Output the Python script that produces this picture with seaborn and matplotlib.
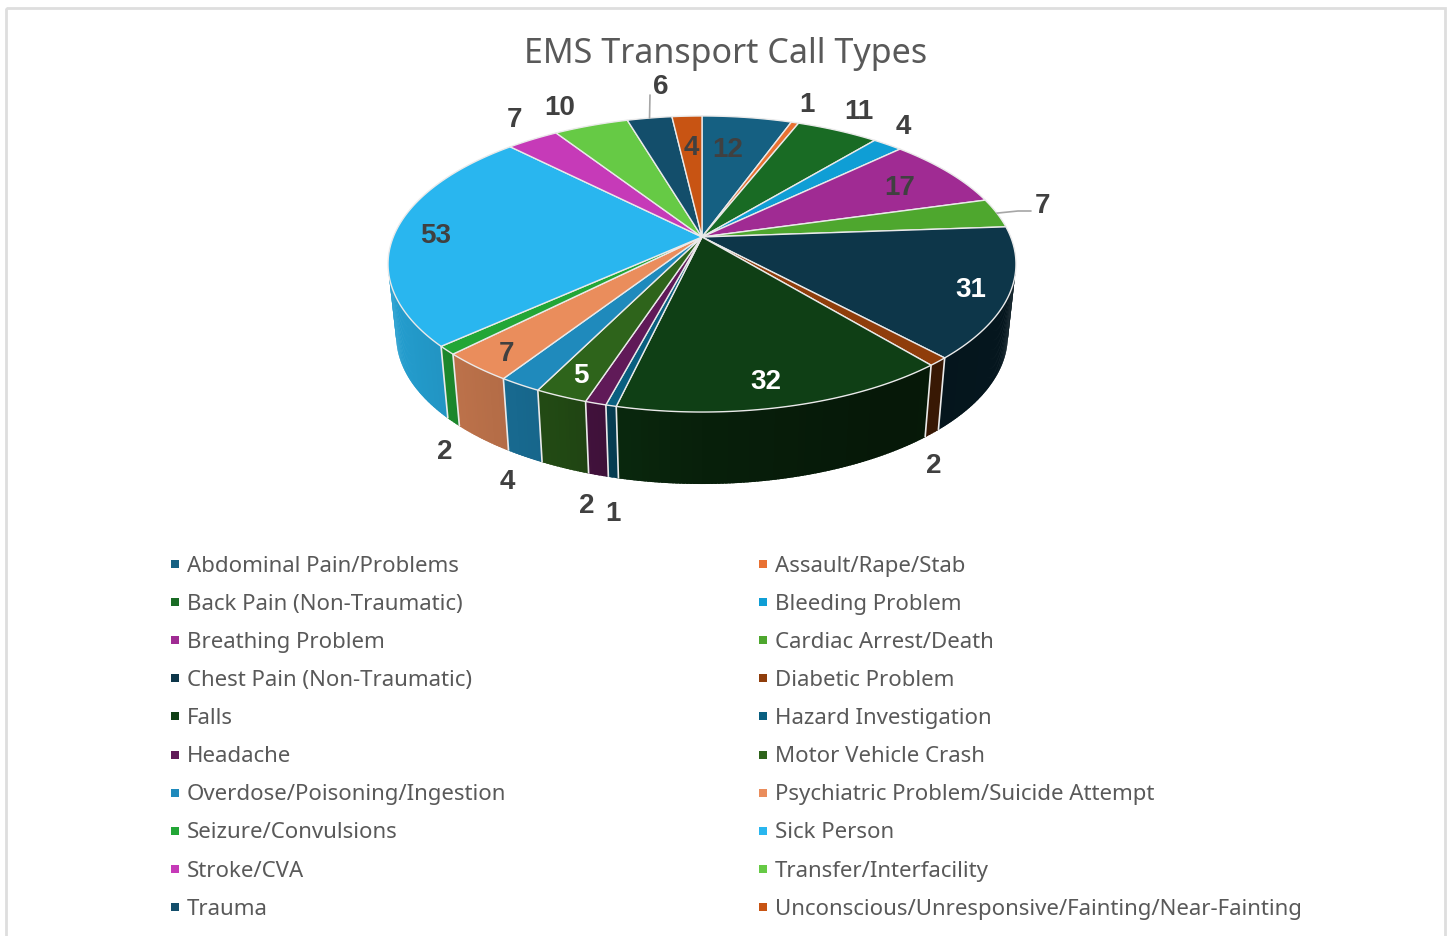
import numpy as np
import matplotlib
matplotlib.use("Agg")
import matplotlib.pyplot as plt
from matplotlib.collections import PolyCollection
from matplotlib.lines import Line2D
from matplotlib.patches import Rectangle
import seaborn as sns

sns.set_theme(style="white")
plt.rcParams['font.family'] = ['Noto Sans', 'DejaVu Sans']

# data
categories = ["Abdominal Pain/Problems", "Assault/Rape/Stab", "Back Pain (Non-Traumatic)",
              "Bleeding Problem", "Breathing Problem", "Cardiac Arrest/Death",
              "Chest Pain (Non-Traumatic)", "Diabetic Problem", "Falls", "Hazard Investigation",
              "Headache", "Motor Vehicle Crash", "Overdose/Poisoning/Ingestion",
              "Psychiatric Problem/Suicide Attempt", "Seizure/Convulsions", "Sick Person",
              "Stroke/CVA", "Transfer/Interfacility", "Trauma",
              "Unconscious/Unresponsive/Fainting/Near-Fainting"]
values = [12, 1, 11, 4, 17, 7, 31, 2, 32, 1, 2, 5, 4, 7, 2, 53, 7, 10, 6, 4]
colors = ["#156082", "#E97132", "#196B24", "#0F9ED5", "#A02B93", "#4EA72E",
          "#0D3649", "#8F3D0B", "#0F3F15", "#095F80", "#601A58", "#2E641B",
          "#1F8ABC", "#EA8D5C", "#22A636", "#29B6EF", "#C63AB8", "#66CA45",
          "#134E6B", "#C85413"]
title = "EMS Transport Call Types"

# label placement, pixels of the picture, same order as values
label_xy = [(728, 150), (807, 105), (859, 112), (903, 127), (900, 188), (1042, 206),
            (971, 290), (934, 466), (766, 382), (613, 514), (587, 506), (581, 376),
            (507, 482), (507, 354), (445, 452), (436, 236), (515, 120), (560, 108),
            (661, 87), (691, 148)]
white_labels = [6, 8, 11]

# perspective of the fake 3d disc
CX, CY = 702, 237
SX, SY, K = 308.7, 143.1, 0.1824
DROP, SHRINK = 72, 0.974


def project(t, r=1.0):
    # t is clockwise from 12 o'clock, radians
    x = r * np.sin(t)
    y = r * np.cos(t)
    d = 1 + K * y
    return CX + SX * x / d, CY - SY * y / d


def lower(px, py):
    return CX + SHRINK * (px - CX), py + DROP


def wall_shade(t):
    # excel lights the side from the left, darkest a bit right of the front
    return np.interp(np.sin(t), [-1, -0.4, 0, 0.5, 1], [0.88, 0.73, 0.5, 0.38, 0.42])


fig, ax = plt.subplots(figsize=(14.51, 9.36), dpi=100)
ax.set_position([0, 0, 1, 1])
ax.set_xlim(0, 1451)
ax.set_ylim(936, 0)
ax.axis("off")

ax.add_patch(Rectangle((6, 8), 1439, 960, fill=False, ec="#DEDEDE", lw=2))

edges = np.cumsum([0] + values) / sum(values) * 2 * np.pi
palette = sns.color_palette(colors)
EDGE = "#EAEAEA"

# side wall first, quads overlap the next one so no seams show
quads = []
quad_cols = []
for i, col in enumerate(palette):
    ts = np.linspace(edges[i], edges[i + 1], max(3, values[i] * 3))
    for j, (a, b) in enumerate(zip(ts[:-1], ts[1:])):
        if np.cos((a + b) / 2) > -K:
            continue
        b2 = b + 0.008 if i < len(values) - 1 else b
        ax1, ay1 = project(a)
        bx1, by1 = project(b2)
        quads.append([(ax1, ay1), (bx1, by1), lower(bx1, by1), lower(ax1, ay1)])
        quad_cols.append(np.array(col) * wall_shade((a + b) / 2))
ax.add_collection(PolyCollection(quads, facecolors=quad_cols, edgecolors="none"))

for e in edges:
    if np.cos(e) < -K:
        px, py = project(e)
        qx, qy = lower(px, py)
        ax.plot([px, qx], [py, qy], color=EDGE, lw=1.2, solid_capstyle="butt")

# top of the pie
for i, col in enumerate(palette):
    ts = np.linspace(edges[i], edges[i + 1], max(4, values[i] * 4))
    px, py = project(ts)
    ax.fill(np.r_[CX, px], np.r_[CY, py], facecolor=col, edgecolor=EDGE, lw=1.0, joinstyle="round")

# leader lines for the two labels pulled away
for i, end in [(5, [(1018, 211), (1031, 211)]), (18, [(650, 95)])]:
    px, py = project((edges[i] + edges[i + 1]) / 2)
    xs = [px] + [p[0] for p in end]
    ys = [py] + [p[1] for p in end]
    ax.plot(xs, ys, color="#A6A6A6", lw=1.2)

for i, v in enumerate(values):
    ax.text(label_xy[i][0], label_xy[i][1], str(v), ha="center", va="center",
            family="Liberation Sans", fontweight="bold", fontsize=20,
            color="white" if i in white_labels else "#404040")

ax.text(726, 54, title, ha="center", va="center", fontsize=24.5, color="#595959")

# legend is filled column wise, the picture reads row wise
order = list(range(0, 20, 2)) + list(range(1, 20, 2))
handles = [Line2D([], [], marker="s", ls="", ms=6.2, mew=0, color=palette[i]) for i in order]
ax.legend(handles, [categories[i] for i in order], ncols=2, loc="upper left",
          bbox_to_anchor=(168, 556), bbox_transform=ax.transData, frameon=False,
          fontsize=16, labelcolor="#595959", labelspacing=0.768, handlelength=0.6,
          handletextpad=0.235, columnspacing=11.27, borderpad=0, borderaxespad=0, numpoints=1)

fig.savefig("out.png", dpi=100)
